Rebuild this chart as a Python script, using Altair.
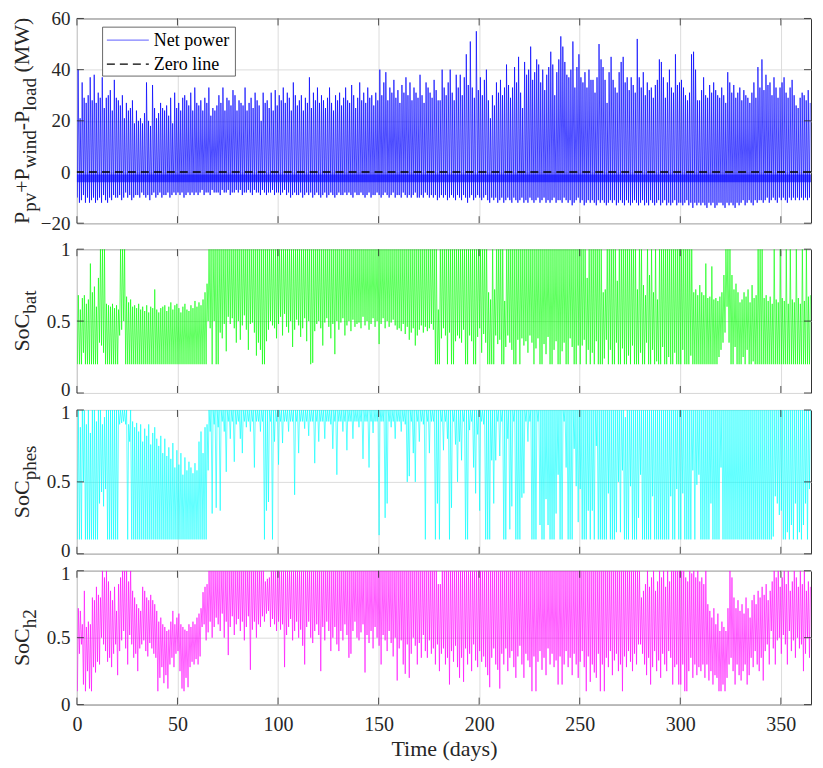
import altair as alt
import pandas as pd

# ---------------- data ----------------
X_DOMAIN = [0, 365]
X_TICKS = [0, 50, 100, 150, 200, 250, 300, 350]
NET_TICKS = [-20, 0, 20, 40, 60]
NET_DOMAIN = [-20, 60]
SOC_TICKS = [0, 0.5, 1]
SOC_DOMAIN = [0, 1]

# daily peak of net power (MW)
NET_MAX = [
    40, 21, 35, 29, 27, 30, 37, 28, 38, 27,
    31, 29, 37, 25, 29, 30, 32, 24, 36, 29,
    28, 26, 30, 21, 27, 24, 25, 28, 19, 24,
    20, 21, 19, 23, 35, 20, 18, 34, 25, 21,
    23, 27, 25, 24, 26, 22, 29, 19, 31, 25,
    27, 24, 29, 30, 28, 26, 31, 24, 33, 27,
    26, 28, 24, 29, 27, 33, 22, 25, 24, 26,
    30, 27, 33, 24, 29, 28, 26, 32, 30, 24,
    28, 27, 26, 33, 24, 27, 29, 25, 31, 28,
    26, 20, 31, 27, 28, 25, 31, 24, 32, 26,
    30, 28, 33, 27, 31, 29, 24, 35, 30, 26,
    28, 30, 24, 29, 27, 37, 25, 31, 28, 33,
    27, 30, 28, 25, 29, 33, 27, 24, 30, 28,
    31, 26, 29, 33, 28, 27, 34, 30, 25, 29,
    35, 28, 31, 27, 33, 29, 30, 26, 31, 28,
    40, 30, 35, 39, 28, 33, 31, 36, 29, 32,
    27, 34, 31, 37, 30, 35, 28, 33, 31, 29,
    38, 30, 27, 35, 33, 31, 29, 36, 32, 28,
    28, 40, 33, 30, 35, 40, 31, 28, 38, 33,
    38, 30, 37, 46, 34, 51, 33, 29, 55, 32,
    37, 30, 36, 40, 28, 21, 30, 26, 35, 31,
    36, 30, 33, 42, 34, 29, 33, 41, 35, 45,
    31, 25, 43, 38, 40, 49, 36, 39, 44, 42,
    35, 40, 32, 38, 41, 47, 42, 30, 39, 44,
    53, 49, 43, 38, 37, 40, 51, 33, 41, 46,
    37, 35, 39, 33, 40, 36, 36, 31, 37, 50,
    44, 41, 36, 27, 39, 45, 36, 33, 31, 39,
    43, 45, 35, 37, 32, 37, 34, 31, 52, 37,
    33, 39, 30, 35, 32, 33, 29, 34, 36, 44,
    43, 37, 29, 35, 40, 33, 31, 46, 34, 35,
    36, 33, 30, 28, 31, 46, 47, 40, 28, 28,
    32, 37, 30, 29, 34, 31, 35, 32, 30, 29,
    33, 30, 27, 39, 35, 31, 34, 29, 31, 33,
    28, 32, 30, 29, 27, 31, 35, 29, 41, 33,
    44, 32, 38, 34, 35, 30, 37, 33, 29, 33,
    35, 37, 31, 29, 33, 36, 30, 26, 25, 29,
    31, 30, 28, 32, 27,
]
# daily trough of net power (MW)
NET_MIN = [
    -10, -12, -11, -9, -12, -10, -12, -11, -10, -12,
    -11, -10, -12, -9, -11, -12, -10, -11, -9, -10,
    -10, -9, -11, -10, -8, -10, -9, -11, -10, -9,
    -9, -10, -8, -9, -10, -9, -11, -9, -8, -10,
    -9, -8, -10, -9, -9, -8, -10, -9, -8, -9,
    -8, -9, -8, -10, -9, -8, -9, -8, -9, -8,
    -9, -8, -7, -9, -8, -8, -9, -7, -8, -8,
    -8, -9, -7, -8, -8, -7, -9, -8, -8, -7,
    -8, -7, -9, -8, -8, -7, -8, -9, -7, -8,
    -8, -9, -7, -8, -9, -8, -8, -7, -9, -8,
    -8, -9, -8, -7, -9, -8, -10, -9, -8, -9,
    -9, -8, -10, -9, -8, -9, -8, -10, -9, -8,
    -9, -10, -9, -8, -10, -9, -8, -9, -10, -9,
    -8, -9, -9, -8, -9, -8, -9, -10, -8, -9,
    -9, -8, -9, -10, -9, -8, -10, -9, -9, -8,
    -9, -10, -9, -8, -9, -10, -9, -8, -10, -9,
    -9, -10, -8, -9, -10, -9, -10, -9, -8, -10,
    -10, -9, -10, -8, -9, -10, -9, -10, -9, -11,
    -10, -9, -10, -9, -11, -10, -9, -10, -11, -9,
    -10, -11, -9, -10, -12, -10, -9, -11, -10, -9,
    -10, -11, -10, -9, -11, -12, -10, -11, -10, -12,
    -11, -10, -12, -11, -10, -11, -12, -10, -11, -12,
    -11, -10, -12, -11, -12, -10, -11, -12, -11, -10,
    -12, -11, -10, -12, -11, -12, -11, -10, -12, -11,
    -11, -12, -10, -11, -12, -11, -13, -12, -11, -10,
    -12, -11, -13, -12, -11, -12, -11, -12, -13, -11,
    -12, -11, -12, -13, -12, -11, -12, -11, -13, -12,
    -11, -12, -13, -11, -12, -13, -12, -11, -12, -13,
    -12, -11, -13, -12, -13, -11, -12, -13, -12, -11,
    -13, -12, -11, -13, -12, -13, -12, -11, -13, -12,
    -12, -13, -12, -11, -13, -12, -14, -12, -13, -12,
    -13, -12, -13, -14, -12, -13, -12, -14, -13, -12,
    -12, -13, -14, -12, -13, -12, -13, -14, -12, -13,
    -12, -11, -13, -12, -11, -12, -13, -11, -12, -11,
    -11, -12, -11, -10, -12, -11, -10, -11, -12, -10,
    -11, -10, -11, -12, -10, -11, -10, -11, -10, -11,
    -10, -11, -10, -11, -10,
]
NIGHT_BAND = [-1.0, -4.0]   # dense dark band of night-time net power (MW)
ZERO = [0.0]

# battery state of charge, daily high / low (%)
BAT_HI = [
    68, 58, 66, 68, 62, 65, 90, 70, 74, 60,
    80, 100, 100, 100, 62, 61, 60, 62, 59, 61,
    58, 100, 100, 100, 67, 63, 65, 60, 61, 59,
    62, 58, 60, 57, 61, 56, 60, 59, 72, 58,
    56, 59, 60, 61, 57, 60, 63, 58, 61, 62,
    59, 56, 60, 62, 58, 57, 61, 59, 64, 60,
    63, 61, 65, 70, 76, 100, 100, 100, 100, 100,
    100, 100, 100, 100, 100, 100, 100, 100, 100, 100,
    100, 100, 100, 100, 100, 100, 100, 100, 100, 100,
    100, 100, 100, 100, 100, 100, 100, 100, 100, 100,
    100, 100, 100, 100, 100, 100, 100, 100, 100, 100,
    100, 100, 100, 100, 100, 100, 100, 100, 100, 100,
    100, 100, 100, 100, 100, 100, 100, 100, 100, 100,
    100, 100, 100, 100, 100, 100, 100, 100, 100, 100,
    100, 100, 100, 100, 100, 100, 100, 100, 100, 100,
    100, 100, 100, 100, 100, 100, 100, 100, 100, 100,
    100, 100, 100, 100, 100, 100, 100, 100, 100, 100,
    100, 100, 100, 100, 100, 100, 100, 100, 100, 58,
    100, 100, 100, 100, 100, 100, 100, 100, 100, 100,
    100, 100, 100, 100, 100, 100, 100, 100, 100, 100,
    100, 100, 100, 100, 70, 65, 100, 72, 100, 100,
    100, 100, 64, 100, 100, 100, 100, 100, 100, 100,
    100, 100, 100, 100, 100, 100, 100, 100, 100, 100,
    100, 100, 100, 100, 100, 100, 100, 100, 100, 100,
    100, 100, 100, 100, 100, 100, 100, 100, 100, 100,
    100, 100, 100, 80, 100, 100, 100, 100, 100, 100,
    100, 70, 72, 100, 100, 100, 100, 100, 78, 100,
    100, 100, 100, 100, 100, 100, 100, 100, 72, 100,
    100, 75, 68, 100, 82, 100, 70, 100, 65, 100,
    100, 100, 100, 100, 100, 100, 100, 100, 100, 100,
    100, 100, 100, 100, 100, 100, 70, 72, 68, 75,
    70, 68, 90, 66, 67, 88, 65, 66, 64, 67,
    70, 82, 100, 100, 100, 82, 72, 76, 70, 63,
    65, 70, 67, 72, 63, 75, 66, 68, 100, 100,
    100, 66, 68, 64, 67, 62, 100, 65, 63, 100,
    66, 64, 100, 62, 100, 65, 63, 100, 66, 62,
    100, 64, 100, 67, 68,
]
BAT_LO = [
    20, 20, 20, 28, 20, 20, 20, 20, 20, 20,
    20, 35, 33, 28, 20, 20, 20, 20, 20, 20,
    20, 40, 44, 50, 20, 20, 20, 20, 20, 20,
    20, 20, 20, 20, 20, 20, 20, 20, 20, 20,
    20, 20, 20, 20, 20, 20, 20, 20, 20, 20,
    20, 20, 20, 20, 20, 20, 20, 20, 20, 20,
    20, 20, 20, 20, 20, 50, 45, 20, 50, 20,
    20, 42, 38, 48, 29, 53, 48, 52, 45, 35,
    50, 37, 47, 54, 44, 30, 48, 49, 42, 26,
    35, 30, 20, 20, 36, 44, 50, 47, 45, 38,
    48, 53, 40, 55, 46, 42, 50, 32, 44, 51,
    47, 39, 45, 52, 36, 50, 20, 21, 43, 48,
    50, 45, 33, 49, 52, 46, 38, 48, 27, 50,
    44, 49, 52, 40, 47, 50, 43, 51, 46, 48,
    49, 45, 53, 47, 50, 44, 48, 52, 46, 50,
    34, 48, 52, 45, 50, 46, 49, 51, 47, 44,
    45, 43, 48, 41, 46, 37, 42, 45, 33, 40,
    44, 47, 42, 46, 43, 45, 48, 44, 20, 20,
    20, 38, 45, 40, 20, 42, 20, 20, 36, 40,
    38, 35, 44, 20, 20, 40, 36, 20, 20, 39,
    45, 28, 41, 35, 20, 20, 20, 20, 40, 34,
    37, 20, 20, 32, 40, 35, 30, 20, 20, 37,
    20, 38, 33, 36, 28, 40, 35, 20, 31, 38,
    20, 20, 34, 27, 39, 20, 20, 30, 36, 20,
    20, 29, 35, 20, 20, 38, 32, 20, 20, 33,
    20, 33, 37, 20, 30, 20, 28, 20, 36, 20,
    20, 20, 24, 37, 20, 30, 20, 20, 35, 20,
    20, 31, 20, 20, 26, 20, 33, 20, 20, 20,
    28, 20, 20, 35, 20, 20, 30, 20, 22, 20,
    20, 32, 20, 20, 25, 20, 20, 28, 20, 20,
    20, 30, 20, 20, 20, 26, 20, 20, 20, 20,
    20, 20, 20, 20, 20, 20, 20, 20, 20, 25,
    30, 35, 42, 60, 35, 20, 20, 32, 20, 20,
    20, 25, 20, 30, 20, 20, 22, 20, 20, 20,
    20, 20, 20, 20, 20, 20, 20, 20, 20, 20,
    20, 20, 20, 20, 20, 20, 20, 20, 20, 20,
    20, 20, 20, 20, 20,
]

# pumped hydro state of charge, daily high / low (%)
PHES_HI = [
    100, 88, 100, 100, 90, 100, 84, 100, 100, 92,
    100, 100, 90, 95, 100, 100, 100, 100, 100, 100,
    100, 100, 100, 100, 100, 90, 100, 92, 88, 91,
    85, 90, 78, 87, 82, 90, 76, 84, 88, 80,
    75, 82, 70, 80, 68, 74, 66, 77, 60, 72,
    62, 70, 55, 67, 58, 64, 60, 56, 63, 58,
    78, 85, 70, 88, 90, 100, 100, 100, 100, 100,
    100, 100, 100, 100, 100, 100, 100, 100, 100, 100,
    100, 100, 100, 100, 100, 100, 100, 100, 100, 100,
    100, 100, 100, 100, 100, 100, 100, 100, 100, 100,
    100, 100, 100, 100, 100, 100, 100, 100, 100, 100,
    100, 100, 100, 100, 100, 100, 100, 100, 100, 100,
    100, 100, 100, 100, 100, 100, 100, 100, 100, 100,
    100, 100, 100, 100, 100, 100, 100, 100, 100, 100,
    100, 100, 100, 100, 100, 100, 100, 100, 100, 100,
    100, 100, 100, 100, 100, 100, 100, 100, 100, 100,
    100, 100, 100, 100, 100, 100, 100, 100, 100, 100,
    100, 100, 100, 100, 100, 100, 100, 100, 100, 100,
    100, 100, 100, 100, 100, 100, 100, 100, 100, 100,
    100, 100, 100, 100, 100, 100, 100, 100, 100, 100,
    100, 100, 100, 100, 100, 100, 100, 100, 100, 100,
    100, 100, 100, 100, 100, 100, 100, 100, 100, 100,
    100, 100, 100, 100, 100, 100, 100, 100, 100, 100,
    100, 100, 100, 100, 100, 100, 100, 100, 100, 100,
    100, 100, 100, 100, 100, 100, 100, 100, 100, 100,
    100, 100, 100, 100, 100, 100, 100, 100, 100, 100,
    100, 100, 100, 100, 100, 100, 100, 100, 100, 100,
    100, 100, 95, 100, 100, 100, 100, 100, 100, 100,
    100, 100, 100, 100, 100, 100, 100, 100, 100, 100,
    100, 100, 100, 100, 100, 100, 100, 100, 100, 100,
    100, 100, 100, 100, 100, 100, 100, 100, 100, 100,
    100, 100, 100, 100, 100, 100, 100, 100, 100, 100,
    100, 100, 100, 100, 100, 100, 100, 100, 100, 100,
    100, 100, 100, 100, 100, 100, 100, 100, 100, 100,
    100, 100, 100, 100, 100, 100, 100, 100, 100, 100,
    100, 100, 100, 100, 100, 100, 100, 100, 100, 100,
    100, 100, 100, 100, 100,
]
PHES_LO = [
    10, 10, 10, 50, 10, 10, 10, 10, 10, 10,
    10, 35, 43, 33, 45, 10, 10, 10, 10, 10,
    10, 90, 91, 92, 90, 10, 78, 10, 10, 10,
    10, 10, 10, 10, 10, 10, 10, 10, 10, 10,
    10, 10, 10, 10, 10, 10, 10, 10, 10, 10,
    10, 10, 10, 10, 10, 10, 10, 10, 10, 10,
    10, 10, 10, 10, 10, 58, 85, 28, 90, 32,
    88, 30, 92, 85, 57, 92, 80, 92, 64, 90,
    92, 80, 70, 92, 88, 92, 85, 92, 60, 92,
    92, 85, 92, 10, 30, 36, 92, 10, 78, 92,
    62, 92, 77, 92, 92, 85, 92, 92, 41, 92,
    70, 92, 92, 87, 92, 82, 92, 92, 63, 92,
    78, 92, 92, 80, 92, 92, 90, 73, 92, 55,
    92, 92, 85, 92, 72, 92, 92, 80, 92, 92,
    88, 92, 66, 92, 92, 60, 92, 84, 92, 92,
    13, 92, 92, 25, 35, 92, 88, 92, 80, 92,
    92, 85, 92, 90, 50, 54, 92, 70, 50, 92,
    78, 92, 90, 10, 92, 70, 92, 92, 10, 35,
    10, 92, 72, 92, 80, 10, 32, 92, 76, 50,
    78, 65, 92, 10, 10, 86, 92, 60, 42, 83,
    30, 92, 90, 10, 10, 10, 65, 35, 65, 92,
    68, 92, 10, 10, 80, 17, 33, 92, 10, 10,
    10, 39, 42, 92, 78, 92, 10, 10, 10, 92,
    20, 10, 10, 38, 20, 10, 10, 10, 28, 55,
    10, 10, 92, 60, 10, 10, 10, 73, 47, 22,
    45, 10, 10, 10, 30, 10, 30, 10, 75, 10,
    10, 10, 10, 10, 42, 10, 10, 10, 15, 50,
    15, 58, 10, 10, 10, 47, 10, 10, 10, 25,
    55, 10, 10, 10, 10, 10, 40, 10, 10, 10,
    10, 10, 10, 10, 10, 40, 10, 10, 45, 10,
    10, 42, 10, 10, 10, 10, 58, 10, 48, 55,
    10, 10, 10, 10, 10, 35, 10, 10, 10, 10,
    60, 10, 10, 10, 10, 10, 10, 10, 10, 10,
    10, 10, 10, 10, 10, 10, 10, 10, 10, 10,
    10, 10, 10, 10, 10, 10, 12, 40, 35, 27,
    30, 10, 10, 15, 10, 20, 10, 35, 10, 15,
    10, 20, 35, 10, 45,
]

# hydrogen storage state of charge, daily high / low (%)
H2_HI = [
    72, 70, 60, 85, 58, 62, 60, 80, 78, 88,
    82, 80, 100, 95, 100, 92, 85, 78, 88, 70,
    90, 95, 100, 100, 100, 92, 100, 85, 80, 75,
    72, 70, 88, 85, 80, 78, 82, 78, 75, 70,
    62, 65, 60, 58, 55, 56, 62, 70, 60, 65,
    68, 60, 58, 56, 55, 60, 58, 62, 60, 65,
    68, 72, 84, 88, 90, 100, 100, 100, 100, 100,
    100, 100, 100, 100, 100, 100, 100, 100, 100, 100,
    100, 100, 100, 100, 100, 100, 100, 100, 100, 100,
    100, 100, 100, 92, 94, 95, 100, 100, 100, 100,
    100, 100, 100, 100, 100, 100, 100, 100, 100, 100,
    100, 100, 100, 100, 100, 100, 100, 100, 100, 100,
    100, 100, 100, 100, 100, 100, 100, 100, 100, 100,
    100, 100, 100, 100, 100, 100, 100, 100, 100, 100,
    100, 100, 100, 100, 100, 100, 100, 100, 100, 100,
    100, 100, 100, 100, 100, 100, 100, 100, 100, 100,
    100, 100, 100, 100, 100, 100, 100, 100, 100, 100,
    100, 100, 100, 100, 100, 100, 100, 100, 100, 90,
    90, 100, 100, 100, 100, 100, 100, 100, 100, 100,
    100, 100, 100, 100, 100, 100, 100, 100, 100, 100,
    100, 100, 100, 100, 100, 100, 100, 100, 100, 100,
    100, 100, 100, 100, 100, 100, 100, 100, 100, 100,
    100, 100, 100, 100, 100, 100, 100, 100, 100, 100,
    100, 100, 100, 100, 100, 100, 100, 100, 100, 100,
    100, 100, 100, 100, 100, 100, 100, 100, 100, 100,
    100, 100, 100, 100, 100, 100, 100, 100, 100, 100,
    100, 100, 100, 100, 100, 100, 100, 100, 100, 100,
    100, 100, 100, 100, 100, 100, 100, 100, 100, 100,
    80, 85, 90, 100, 88, 95, 100, 85, 92, 100,
    95, 100, 88, 100, 92, 100, 100, 100, 100, 100,
    100, 100, 95, 92, 100, 98, 100, 95, 100, 92,
    95, 90, 100, 75, 70, 65, 72, 60, 68, 55,
    62, 58, 55, 72, 100, 95, 80, 72, 78, 70,
    75, 68, 80, 72, 65, 78, 82, 75, 85, 80,
    88, 82, 90, 78, 85, 92, 100, 95, 100, 88,
    95, 100, 90, 100, 85, 92, 100, 95, 88, 100,
    90, 100, 85, 92, 88,
]
H2_LO = [
    10, 38, 45, 15, 10, 25, 12, 10, 28, 24,
    32, 30, 50, 45, 40, 32, 35, 28, 38, 45,
    22, 40, 48, 55, 42, 30, 52, 45, 35, 38,
    25, 42, 45, 48, 40, 36, 46, 42, 38, 35,
    10, 20, 28, 16, 22, 12, 30, 35, 28, 38,
    40, 25, 12, 10, 20, 13, 28, 32, 30, 34,
    30, 36, 58, 60, 48, 54, 62, 50, 58, 65,
    60, 55, 68, 50, 62, 37, 58, 66, 52, 60,
    64, 55, 62, 48, 58, 66, 26, 56, 62, 50,
    60, 58, 66, 62, 68, 70, 58, 64, 60, 55,
    62, 56, 60, 28, 52, 58, 64, 48, 55, 62,
    50, 56, 44, 30, 58, 62, 50, 46, 55, 60,
    52, 25, 58, 48, 62, 55, 40, 50, 58, 45,
    40, 55, 48, 60, 52, 35, 38, 55, 62, 50,
    48, 54, 60, 24, 52, 46, 55, 42, 58, 50,
    44, 30, 52, 48, 40, 55, 46, 36, 50, 18,
    42, 48, 30, 23, 45, 20, 38, 50, 44, 30,
    46, 35, 52, 40, 35, 48, 38, 42, 30, 45,
    25, 38, 42, 30, 35, 15, 40, 32, 44, 28,
    20, 35, 17, 42, 30, 38, 25, 45, 33, 28,
    40, 32, 36, 28, 22, 13, 35, 42, 30, 26,
    12, 38, 30, 42, 25, 35, 40, 28, 20, 36,
    44, 30, 20, 38, 33, 28, 10, 36, 10, 32,
    40, 26, 35, 22, 42, 30, 38, 28, 33, 15,
    36, 15, 30, 40, 28, 35, 22, 38, 30, 20,
    32, 40, 28, 10, 36, 17, 30, 24, 20, 38,
    10, 30, 10, 35, 28, 40, 22, 33, 38, 25,
    30, 10, 36, 28, 40, 32, 25, 38, 30, 45,
    45, 38, 30, 22, 35, 15, 28, 40, 25, 33,
    20, 38, 30, 25, 40, 35, 15, 28, 30, 15,
    15, 30, 10, 10, 25, 35, 20, 30, 22, 28,
    25, 30, 20, 30, 18, 25, 15, 22, 20, 10,
    10, 15, 10, 20, 30, 35, 25, 15, 30, 22,
    18, 25, 30, 15, 22, 35, 28, 40, 30, 25,
    35, 18, 40, 45, 30, 55, 42, 30, 48, 50,
    38, 52, 45, 30, 55, 40, 48, 35, 50, 42,
    45, 25, 38, 50, 35,
]

# ---------------- styling ----------------
FONT = "Liberation Serif"
TXT = "#262626"
GRID = "#dcdcdc"
W = 735
H1, H2, H3, H4 = 205, 144, 144, 134
TICK = 7
LABEL_FS = 19

# Times / Liberation Serif advance widths (em)
CW = {"P": .556, "p": .5, "v": .5, "+": .564, "w": .722, "i": .278, "n": .5,
      "d": .5, "-": .333, "l": .278, "o": .5, "a": .444, " ": .25, "(": .333,
      "M": .889, "W": .944, ")": .333, "S": .556, "C": .667, "b": .5, "t": .278,
      "h": .5, "e": .444, "s": .389, "2": .5}


def twidth(s, fs):
    return sum(CW.get(c, 0.5) for c in s) * fs


ONE = pd.DataFrame({"k": [0]})


def zigzag(lo, hi, scale=1.0, off_lo=0.25, off_hi=0.7):
    rows = []
    for d, (a, b) in enumerate(zip(lo, hi)):
        rows.append({"t": d + off_lo, "v": a * scale})
        rows.append({"t": d + off_hi, "v": b * scale})
    return pd.DataFrame(rows)


def xscale():
    return alt.Scale(domain=X_DOMAIN, nice=False, zero=False)


def yscale(dom):
    return alt.Scale(domain=dom, nice=False, zero=False)


def x_axis(show):
    kw = dict(values=X_TICKS, grid=True, gridColor=GRID, gridWidth=1, ticks=False,
              domain=False, labels=show, labelFont=FONT, labelFontSize=20,
              labelColor=TXT, labelPadding=10, labelFlush=False)
    if show:
        kw.update(title="Time (days)", titleFont=FONT, titleFontSize=22,
                  titleFontWeight="normal", titleColor=TXT, titlePadding=4)
    else:
        kw.update(title=None)
    return alt.Axis(**kw)


def y_axis(vals, fmt, off_top, off_bot):
    offset = {"condition": [{"test": "datum.value == %s" % vals[-1], "value": off_top},
                            {"test": "datum.value == %s" % vals[0], "value": off_bot}],
              "value": 0}
    return alt.Axis(values=vals, grid=True, gridColor=GRID, gridWidth=1, ticks=False,
                    domain=False, labelFont=FONT, labelFontSize=LABEL_FS, labelColor=TXT,
                    labelPadding=7, format=fmt, title=None, labelFlush=False,
                    labelOffset=offset)


def tick_layers(H, yticks, ydom):
    xt = pd.DataFrame({"t": X_TICKS})
    yt = pd.DataFrame({"v": yticks})
    rule = dict(color=TXT, strokeWidth=0.8)
    xs = xscale()
    ys = yscale(ydom)
    return [
        alt.Chart(xt).mark_rule(**rule).encode(x=alt.X("t:Q", scale=xs), y=alt.value(0), y2=alt.value(TICK)),
        alt.Chart(xt).mark_rule(**rule).encode(x=alt.X("t:Q", scale=xs), y=alt.value(H - TICK), y2=alt.value(H)),
        alt.Chart(yt).mark_rule(**rule).encode(y=alt.Y("v:Q", scale=ys), x=alt.value(0), x2=alt.value(TICK)),
        alt.Chart(yt).mark_rule(**rule).encode(y=alt.Y("v:Q", scale=ys), x=alt.value(W - TICK), x2=alt.value(W)),
    ]


def ylabel_layers(pieces, H, xb=-48, M=22, S=19, drop=7):
    total = sum(twidth(t, M if k == "m" else S) for t, k in pieces)
    y = H / 2 + total / 2
    out = []
    for t, k in pieces:
        fs = M if k == "m" else S
        px = xb if k == "m" else xb + drop
        lead = len(t) - len(t.lstrip())
        yy = y - twidth(t[:lead], fs)
        out.append(
            alt.Chart(ONE).mark_text(text=t.lstrip(), angle=270, align="left",
                                     baseline="alphabetic", font=FONT, fontSize=fs,
                                     color=TXT)
            .encode(x=alt.value(px), y=alt.value(yy))
        )
        y -= twidth(t, fs)
    return out


def series_layer(df, color, opacity, ydom, yticks, fmt, show_x, off_top=0, off_bot=0):
    return alt.Chart(df).mark_line(color=color, opacity=opacity, strokeWidth=1, clip=True).encode(
        x=alt.X("t:Q", scale=xscale(), axis=x_axis(show_x)),
        y=alt.Y("v:Q", scale=yscale(ydom), axis=y_axis(yticks, fmt, off_top, off_bot)),
    )


# ---------------- panel 1: net power ----------------
net_df = zigzag(NET_MIN, NET_MAX, off_lo=0.25, off_hi=0.6)
p1_line = series_layer(net_df, "#0000ff", 0.7, NET_DOMAIN, NET_TICKS, "d", False)
band_df = pd.DataFrame({"t": [X_DOMAIN[0]], "t2": [X_DOMAIN[1]],
                        "v": [NIGHT_BAND[0]], "v2": [NIGHT_BAND[1]]})
p1_band = alt.Chart(band_df).mark_rect(color="#0000ff", opacity=0.6).encode(
    x=alt.X("t:Q", scale=xscale()), x2="t2:Q",
    y=alt.Y("v:Q", scale=yscale(NET_DOMAIN)), y2="v2:Q")
zero_df = pd.DataFrame({"v": ZERO})
p1_zero = alt.Chart(zero_df).mark_rule(color="black", strokeDash=[8, 5], strokeWidth=1.5).encode(
    y=alt.Y("v:Q", scale=yscale(NET_DOMAIN)))

# legend box
LX0, LX1, LY0, LY1 = 25.7, 158.7, 8.7, 57.7
legend = [
    alt.Chart(ONE).mark_rect(fill="white", stroke="#444444", strokeWidth=0.8).encode(
        x=alt.value(LX0), x2=alt.value(LX1), y=alt.value(LY0), y2=alt.value(LY1)),
    alt.Chart(ONE).mark_rule(color="#0000ff", opacity=0.5, strokeWidth=1.2).encode(
        x=alt.value(30), x2=alt.value(72), y=alt.value(21.7)),
    alt.Chart(ONE).mark_rule(color="black", strokeDash=[8, 5], strokeWidth=1.3).encode(
        x=alt.value(30), x2=alt.value(72), y=alt.value(45.7)),
    alt.Chart(ONE).mark_text(text="Net power", align="left", baseline="middle", font=FONT,
                             fontSize=18, color="black").encode(x=alt.value(77), y=alt.value(22.5)),
    alt.Chart(ONE).mark_text(text="Zero line", align="left", baseline="middle", font=FONT,
                             fontSize=18, color="black").encode(x=alt.value(77), y=alt.value(46.5)),
]

p1 = alt.layer(
    p1_line, p1_band, p1_zero, *tick_layers(H1, NET_TICKS, NET_DOMAIN), *legend,
    *ylabel_layers([("P", "m"), ("pv", "s"), ("+P", "m"), ("wind", "s"), ("-P", "m"),
                    ("load", "s"), (" (MW)", "m")], H1)
).properties(width=W, height=H1)


def soc_panel(lo, hi, color, sub, H, show_x, off_top, off_bot):
    df = zigzag(lo, hi, scale=0.01)
    line = series_layer(df, color, 0.62, SOC_DOMAIN, SOC_TICKS, ".1~f", show_x, off_top, off_bot)
    return alt.layer(
        line, *tick_layers(H, SOC_TICKS, SOC_DOMAIN),
        *ylabel_layers([("SoC", "m"), (sub, "s")], H)
    ).properties(width=W, height=H)


p2 = soc_panel(BAT_LO, BAT_HI, "#00ff00", "bat", H2, False, 0, -3)
p3 = soc_panel(PHES_LO, PHES_HI, "#00ffff", "phes", H3, False, 3, -3)
p4 = soc_panel(H2_LO, H2_HI, "#ff00ff", "h2", H4, True, 3, 0)

inner = alt.vconcat(p2, p3, p4, spacing=17, bounds="flush")
chart = alt.vconcat(p1, inner, spacing=26, bounds="flush").properties(
    padding={"left": 2, "top": 0, "right": 2, "bottom": 2}
).configure_view(stroke="#333333", strokeWidth=1)

chart.save("out.html", embed_options={"renderer": "svg", "actions": False})
